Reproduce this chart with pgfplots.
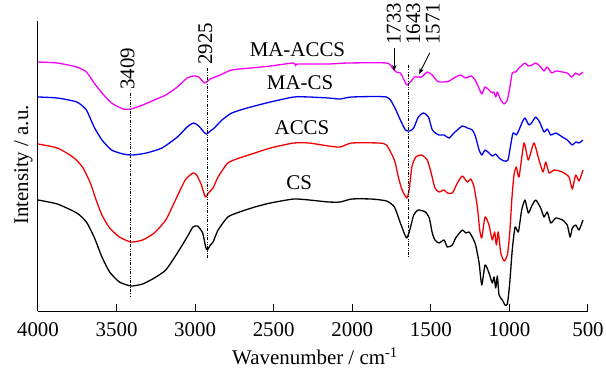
\documentclass[border=0pt]{standalone}
\usepackage{fontspec}
\setmainfont{Liberation Serif}
\usepackage{pgfplots}
\pgfplotsset{compat=1.18}
\usetikzlibrary{arrows.meta}

\definecolor{spmagenta}{RGB}{245,0,245}
\definecolor{spblue}{RGB}{0,0,240}
\definecolor{spred}{RGB}{240,0,0}

\begin{document}
\begin{tikzpicture}[font=\fontsize{21}{25}\selectfont]
\begin{axis}[
  at={(38bp,58bp)}, anchor=south west,
  scale only axis, width=550bp, height=290bp,
  xmin=500, xmax=4000, x dir=reverse,
  ymin=0, ymax=290,
  axis x line*=bottom, axis y line*=left,
  x axis line style={-}, y axis line style={-},
  axis line style={line width=1bp},
  xtick={500,1000,...,4000}, ytick=\empty,
  xtick align=inside, major tick length=7bp,
  tick style={line width=1bp, black},
  /pgf/number format/1000 sep={},
  /pgf/number format/assume math mode=true,
  xticklabel style={yshift=-8bp},
  clip=false,
  every axis plot/.append style={line width=1.3bp, line join=round, smooth, tension=0.35, mark=none},
]

% CS
\addplot[black] coordinates {
(4000,111) (3877,107) (3753,98) (3692,89) (3643,74) (3593,54) (3544,39) (3482,29)
(3408,25) (3334,27) (3260,33) (3187,41) (3113,58) (3051,74) (3014,84) (2984,85)
(2952,78) (2933,64) (2923,61) (2903,66) (2886,69) (2854,81) (2792,94) (2718,99)
(2620,104) (2521,108) (2373,112) (2275,111) (2151,109) (2077,109) (2003,112) (1880,112)
(1782,110) (1732,104) (1694,88) (1670,78) (1653,73) (1634,81) (1609,96) (1580,101)
(1535,99) (1510,93) (1491,78) (1474,71) (1448,68) (1416,71) (1395,64) (1363,66)
(1342,73) (1300,81) (1278,78) (1257,79) (1236,74) (1215,66) (1193,48) (1176,26)
(1155,46) (1130,38) (1109,28) (1098,34) (1087,23) (1077,35) (1066,16) (1045,11)
(1028,6) (1013,7) (998,28) (982,61) (964,84) (943,79) (922,101) (901,111)
(880,98) (858,105) (833,111) (801,103) (780,94) (759,99) (737,88) (705,93)
(663,91) (632,86) (614,74) (600,83) (578,86) (557,81) (532,91)
};

% ACCS
\addplot[spred] coordinates {
(4000,167) (3877,163) (3778,154) (3717,144) (3667,128) (3630,111) (3593,96) (3544,83)
(3482,74) (3408,69) (3334,71) (3260,78) (3187,91) (3125,111) (3063,131) (3014,138)
(2990,136) (2960,126) (2935,114) (2916,118) (2886,123) (2854,134) (2792,148) (2718,153)
(2620,158) (2521,163) (2373,168) (2275,168) (2151,165) (2077,164) (2003,168) (1831,168)
(1782,166) (1732,151) (1707,134) (1683,121) (1653,113) (1638,121) (1621,144) (1596,154)
(1559,156) (1523,151) (1498,138) (1474,123) (1448,119) (1416,121) (1395,118) (1363,118)
(1331,128) (1300,135) (1268,129) (1246,132) (1225,124) (1204,104) (1189,81) (1176,73)
(1155,94) (1130,86) (1109,71) (1094,79) (1083,66) (1071,79) (1055,58) (1034,50)
(1013,56) (998,78) (985,111) (971,136) (956,144) (939,134) (907,168) (880,151)
(844,168) (812,151) (786,139) (769,149) (748,138) (716,141) (663,139) (621,134)
(600,122) (578,136) (557,130) (532,141)
};

% MA-CS
\addplot[spblue] coordinates {
(4000,214) (3877,213) (3753,209) (3692,201) (3643,184) (3593,171) (3532,161) (3458,157)
(3396,156) (3310,158) (3211,163) (3113,174) (3051,184) (3009,188) (2977,185) (2945,179)
(2928,177) (2903,180) (2878,183) (2829,191) (2767,198) (2669,203) (2521,209) (2373,214)
(2275,214) (2151,213) (2077,212) (2003,214) (1782,214) (1732,204) (1694,191) (1662,181)
(1634,180) (1609,183) (1580,194) (1547,198) (1515,194) (1491,181) (1461,177) (1448,176)
(1416,176) (1384,173) (1353,178) (1300,185) (1268,183) (1236,181) (1215,174) (1193,161)
(1176,156) (1155,161) (1130,158) (1109,155) (1087,157) (1066,153) (1034,150) (1009,151)
(992,166) (977,178) (956,176) (939,181) (918,189) (901,193) (876,186) (855,189)
(833,194) (808,189) (780,179) (759,182) (737,176) (705,178) (663,174) (632,171)
(600,166) (578,169) (557,168) (532,171)
};

% MA-ACCS
\addplot[spmagenta] coordinates {
(4000,249) (3877,248) (3753,244) (3692,239) (3643,228) (3593,218) (3532,208) (3458,202)
(3408,202) (3334,206) (3260,211) (3187,216) (3113,224) (3051,233) (3009,235) (2977,234)
(2940,228) (2903,232) (2841,236) (2767,241) (2644,243) (2521,245) (2373,248) (2361,245)
(2349,247) (2151,247) (2028,248) (1782,248) (1745,243) (1720,239) (1694,238) (1670,231)
(1653,226) (1629,229) (1604,234) (1559,234) (1523,239) (1491,236) (1461,230) (1448,229)
(1416,229) (1384,230) (1342,234) (1310,236) (1278,233) (1242,235) (1219,231) (1197,224)
(1176,217) (1155,224) (1130,221) (1109,218) (1098,219) (1087,214) (1077,219) (1055,211)
(1034,207) (1013,211) (998,223) (982,238) (960,239) (939,243) (918,246) (901,248)
(880,245) (855,246) (833,248) (801,244) (780,240) (759,244) (731,238) (705,240)
(663,239) (632,238) (604,234) (578,238) (557,236) (532,239)
};

% band markers
\draw[black, line width=0.8bp, dash pattern=on 3bp off 1.5bp on 0.7bp off 1.5bp on 0.7bp off 1.5bp]
  (axis cs:3409,218) -- (axis cs:3409,14);
\draw[black, line width=0.8bp, dash pattern=on 3bp off 1.5bp on 0.7bp off 1.5bp on 0.7bp off 1.5bp]
  (axis cs:2925,243) -- (axis cs:2925,52);
\draw[black, line width=0.8bp, dash pattern=on 3bp off 1.5bp on 0.7bp off 1.5bp on 0.7bp off 1.5bp]
  (axis cs:1643,246) -- (axis cs:1643,54);

\node[rotate=90, anchor=west, inner sep=0pt] at (axis cs:3430,221) {3409};
\node[rotate=90, anchor=west, inner sep=0pt] at (axis cs:2935,246) {2925};
\node[rotate=90, anchor=west, inner sep=0pt] at (axis cs:1736,266) {1733};
\node[rotate=90, anchor=west, inner sep=0pt] at (axis cs:1612,266) {1643};
\node[rotate=90, anchor=west, inner sep=0pt] at (axis cs:1488,266) {1571};

\draw[-{Stealth[length=6bp,width=4.5bp]}, line width=0.9bp] (axis cs:1733,263) -- (axis cs:1733,240);
\draw[-{Stealth[length=6bp,width=4.5bp]}, line width=0.9bp] (axis cs:1507,258) -- (axis cs:1575,237);

% sample names
\node at (axis cs:2349,261) {MA-ACCS};
\node at (axis cs:2332,228) {MA-CS};
\node at (axis cs:2320,183) {ACCS};
\node at (axis cs:2338,128) {CS};
\end{axis}

\node[anchor=base] at (315bp,4.5bp) {Wavenumber / cm\textsuperscript{-1}};
\node[rotate=90, anchor=base] at (28bp,204bp) {Intensity / a.u.};

\pgfresetboundingbox
\path[use as bounding box] (0,0) rectangle (606bp,369bp);
\end{tikzpicture}
\end{document}
